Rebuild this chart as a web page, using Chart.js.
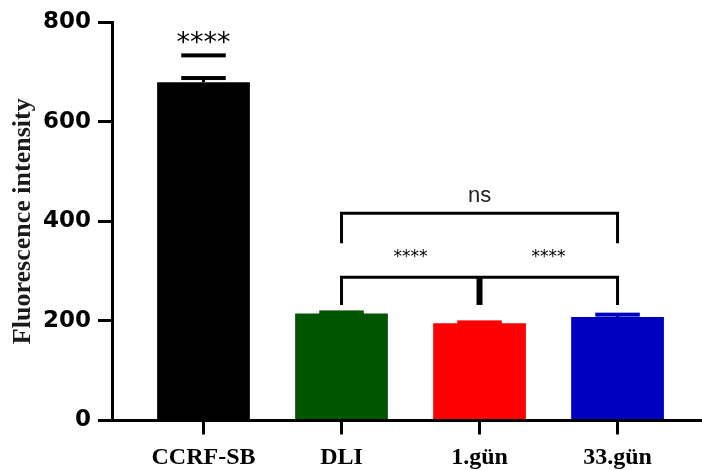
<!DOCTYPE html>
<html><head><meta charset="utf-8">
<script src="https://cdn.jsdelivr.net/npm/chart.js@4.4.0/dist/chart.umd.min.js"></script>
<style>html,body{margin:0;padding:0;background:#fff;overflow:hidden}#wrap{width:702px;height:470px}</style>
</head><body>
<div id="wrap"><canvas id="c" width="702" height="470"></canvas></div>
<script>
const categories = ['CCRF-SB', 'DLI', '1.gün', '33.gün'];
const meanValues = [679, 215, 195, 208];
const sdValues = [8.5, 2, 2, 4.5];
const barColors = ['#000000', '#005500', '#ff0000', '#0000c0'];
const yTickValues = [0, 200, 400, 600, 800];
const yTitle = 'Fluorescence intensity';

// significance annotations (data units)
const sigTop = { index: 0, label: '****', line: 733, text: 742 };
const sigUpper = { from: 1, to: 3, line: 416, leg: 356, label: 'ns', text: 438 };
const sigLower = { from: 1, mid: 2, to: 3, line: 287.5, leg: 232, label: '****', text: 318.5 };

const annotPlugin = {
  id: 'annot',
  afterDatasetsDraw(chart) {
    const ctx = chart.ctx, xs = chart.scales.x, ys = chart.scales.y;
    const meta = chart.getDatasetMeta(0);
    ctx.save();
    // error bars
    meta.data.forEach((bar, i) => {
      const top = ys.getPixelForValue(meanValues[i] + sdValues[i]);
      const capW = bar.width * 0.48;
      ctx.fillStyle = barColors[i];
      ctx.fillRect(bar.x - 1.5, top, 3, bar.y - top);
      ctx.fillRect(bar.x - capW / 2, top - 2, capW, 4);
    });
    ctx.fillStyle = '#000';
    ctx.strokeStyle = '#000';
    // top significance
    const b0 = meta.data[sigTop.index];
    const w0 = b0.width * 0.48;
    ctx.fillRect(b0.x - w0 / 2, ys.getPixelForValue(sigTop.line) - 2, w0, 4);
    ctx.font = '27px "DejaVu Sans"';
    ctx.textAlign = 'center';
    ctx.textBaseline = 'alphabetic';
    ctx.fillText(sigTop.label, b0.x, ys.getPixelForValue(sigTop.text));
    // upper bracket
    ctx.lineWidth = 3;
    ctx.lineJoin = 'miter';
    ctx.lineCap = 'butt';
    let x1 = xs.getPixelForValue(sigUpper.from), x3 = xs.getPixelForValue(sigUpper.to);
    let yl = ys.getPixelForValue(sigUpper.line), yg = ys.getPixelForValue(sigUpper.leg);
    ctx.beginPath();
    ctx.moveTo(x1, yg); ctx.lineTo(x1, yl); ctx.lineTo(x3, yl); ctx.lineTo(x3, yg);
    ctx.stroke();
    ctx.fillStyle = '#222';
    ctx.font = '22px "Liberation Sans"';
    ctx.fillText(sigUpper.label, (x1 + x3) / 2, ys.getPixelForValue(sigUpper.text));
    // lower bracket
    ctx.fillStyle = '#000';
    x1 = xs.getPixelForValue(sigLower.from); x3 = xs.getPixelForValue(sigLower.to);
    const x2 = xs.getPixelForValue(sigLower.mid);
    yl = ys.getPixelForValue(sigLower.line); yg = ys.getPixelForValue(sigLower.leg);
    ctx.beginPath();
    ctx.moveTo(x1, yg); ctx.lineTo(x1, yl); ctx.lineTo(x3, yl); ctx.lineTo(x3, yg);
    ctx.stroke();
    ctx.lineWidth = 6;
    ctx.beginPath();
    ctx.moveTo(x2, yl); ctx.lineTo(x2, yg);
    ctx.stroke();
    ctx.font = '17px "DejaVu Sans"';
    const ty = ys.getPixelForValue(sigLower.text);
    ctx.fillText(sigLower.label, (x1 + x2) / 2, ty);
    ctx.fillText(sigLower.label, (x2 + x3) / 2, ty);
    ctx.restore();
  }
};

new Chart(document.getElementById('c'), {
  type: 'bar',
  data: {
    datasets: [{
      data: meanValues.map((v, i) => ({ x: i, y: v })),
      backgroundColor: barColors,
      borderWidth: 0,
      categoryPercentage: 1,
      barPercentage: 0.672
    }]
  },
  options: {
    responsive: false,
    animation: false,
    layout: { padding: { top: 22, left: 0, right: 0, bottom: 0 } },
    plugins: { legend: { display: false }, tooltip: { enabled: false } },
    scales: {
      x: {
        type: 'linear',
        offset: false,
        min: -0.663,
        max: 3.612,
        afterFit(scale) { scale.height = 49.5; },
        afterBuildTicks(scale) { scale.ticks = categories.map((c, i) => ({ value: i })); },
        border: { display: true, color: '#000', width: 3 },
        grid: { display: true, offset: false, drawOnChartArea: false, drawTicks: true, tickLength: 14, lineWidth: 3, color: '#000' },
        ticks: {
          padding: 9,
          color: '#000',
          font: { family: '"Liberation Serif"', weight: 'bold', size: 24 },
          callback: (v) => categories[v],
          maxRotation: 0, autoSkip: false
        }
      },
      y: {
        min: 0,
        max: 800,
        afterFit(scale) { scale.width = 112; },
        afterBuildTicks(scale) { scale.ticks = yTickValues.map(v => ({ value: v })); },
        border: { display: true, color: '#000', width: 3 },
        grid: { display: true, drawOnChartArea: false, drawTicks: true, tickLength: 14, lineWidth: 3, color: '#000' },
        ticks: {
          padding: 7,
          color: '#000',
          font: { family: '"DejaVu Sans"', weight: 'bold', size: 23 }
        },
        title: {
          display: true,
          text: yTitle,
          color: '#1a1a1a',
          padding: { top: 8, bottom: 0 },
          font: { family: '"Liberation Serif"', weight: 'bold', size: 26 }
        }
      }
    }
  },
  plugins: [annotPlugin]
});
</script>
</body></html>
